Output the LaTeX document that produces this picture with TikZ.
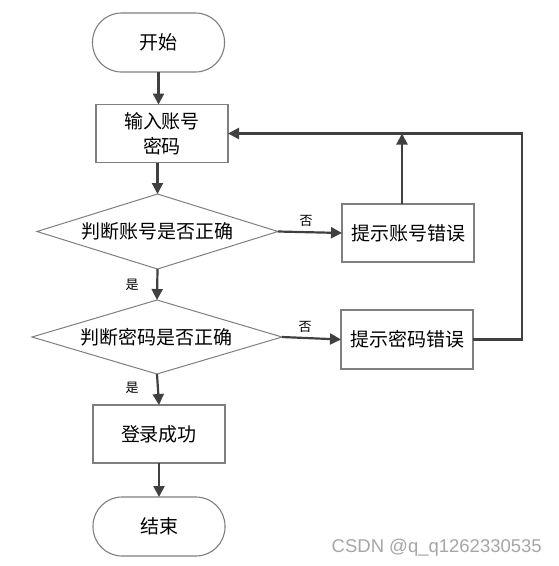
\documentclass[tikz,border=0pt]{standalone}
\usepackage{fontspec}
\newfontfamily\cjk{Noto Sans CJK SC}
\newfontfamily\wm{Liberation Sans}
\usetikzlibrary{shapes.geometric,arrows.meta}
\definecolor{linec}{HTML}{404040}
\definecolor{boxc}{HTML}{7F7F7F}
\definecolor{wmc}{HTML}{A6A6A6}
\tikzset{
  base/.style={inner sep=0pt, outer sep=0pt, font=\cjk\fontsize{19}{25}\selectfont, align=center, text=black},
  term/.style={base, draw=boxc, line width=1.1pt, rectangle, rounded corners=29pt, minimum width=132pt, minimum height=59pt},
  proc/.style={base, draw=boxc, line width=1.3pt, rectangle, minimum width=132pt, minimum height=58pt},
  dec/.style={base, draw=boxc, line width=1pt, diamond, aspect=3.2},
  arr/.style={draw=linec, line width=2.2pt, -{Triangle[length=11pt,width=11pt]}},
  lbl/.style={inner sep=0pt, font=\cjk\fontsize{13}{15}\selectfont, text=black}
}
\begin{document}
\begin{tikzpicture}[x=1pt,y=-1pt]
\useasboundingbox[fill=white] (0,0) rectangle (558,566);
\node[term] (start) at (158.5,42.5) {开始};
\node[proc] (input) at (162,133.5) {输入账号\\密码};
\node[dec, minimum width=241pt, minimum height=75pt] (d1) at (157.5,231.5) {判断账号是否正确};
\node[dec, minimum width=250pt, minimum height=74pt] (d2) at (157,337) {判断密码是否正确};
\node[proc] (e1) at (408,233) {提示账号错误};
\node[proc, minimum height=59pt] (e2) at (407,339.5) {提示密码错误};
\node[proc] (ok) at (159,434) {登录成功};
\node[term] (end) at (159,526.5) {结束};
\coordinate (fb) at (522,133.5);

\draw[arr] (start.south) -- (start.south |- input.north);
\draw[arr] (d1.north |- input.south) -- (d1.north);
\draw[arr] (d1.south) -- (d2.north);
\draw[arr] (d2.south) -- (ok.north);
\draw[arr] (ok.south) -- (end.north);
\draw[arr] (d1.east) -- (e1.west);
\draw[arr] (d2.east) -- (e2.west);
\draw[arr] ([xshift=-6pt]e1.north) -- ([xshift=-6pt]e1.north |- fb);
\draw[arr] (e2.east) -| (fb) -- (input.east);

\node[lbl] (y1) at (132,285) {是};
\node[lbl] (y2) at (132,388) {是};
\node[lbl] (n1) at (306,221) {否};
\node[lbl] (n2) at (305,327) {否};
\node[anchor=east, inner sep=0pt, font=\wm\fontsize{18.5}{20}\selectfont, text=wmc] (wmk) at (542,548) {CSDN @q\_q1262330535};
\end{tikzpicture}
\end{document}
